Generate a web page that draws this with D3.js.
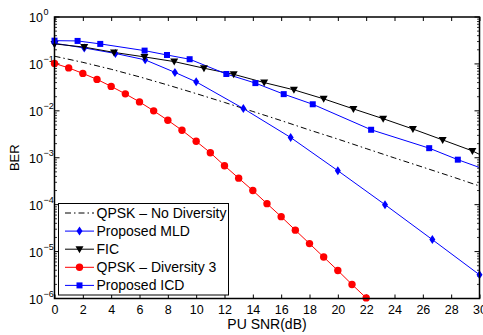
<!DOCTYPE html>
<html lang="en">
<head>
    <meta charset="UTF-8">
    <title>BER vs PU SNR</title>
    <script src="https://d3js.org/d3.v7.min.js"></script>
    <style>
        body { margin: 0; background: #fff; }
        text { font-family: "Liberation Sans", Arial, sans-serif; fill: #000; }
        .line { fill: none; stroke-width: 1px; }
    </style>
</head>
<body>
    <script>
        // values (x in dB, BER)
        var noDivX   = [0, 2, 4, 6, 8, 10, 12, 14, 16, 18, 20, 22, 24, 26, 28, 30];
        var noDivBer = [0.146, 0.108, 0.077, 0.053, 0.0355, 0.0233, 0.0151, 0.0097, 0.0062, 0.0039,
                        0.0025, 0.00157, 0.00099, 0.00063, 0.0004, 0.00025];

        var mldX   = [0, 2.1, 4.3, 6.4, 8.5, 10, 13.33, 16.67, 20, 23.33, 26.67, 30];
        var mldBer = [0.276, 0.219, 0.167, 0.122, 0.066, 0.0415, 0.0112, 0.0027, 0.00053, 0.0001, 1.8e-5, 3.2e-6];

        var ficX   = [0, 2.1, 4.2, 6.35, 8.45, 10.55, 12.65, 14.8, 16.9, 19.0, 21.1, 23.2, 25.3, 27.4, 29.5, 30];
        var ficBer = [0.267, 0.228, 0.176, 0.141, 0.112, 0.081, 0.060, 0.040, 0.028, 0.018,
                      0.011, 0.0068, 0.0041, 0.0024, 0.0014, 0.00118];

        var div3X   = d3.range(0, 23);
        var div3Ber = [0.1026, 0.0822, 0.0628, 0.0468, 0.0332, 0.0230, 0.0155, 0.0100, 0.00628, 0.00385,
                       0.00224, 0.00128, 0.000676, 0.000367, 0.0002, 0.000105, 5.56e-5, 2.86e-5,
                       1.48e-5, 7.64e-6, 3.95e-6, 1.99e-6, 1.03e-6];

        var icdX   = [0, 1.63, 3.23, 6.36, 7.94, 9.54, 12.13, 14.18, 16.18, 18.23, 22.35, 26.45, 28.47, 30];
        var icdBer = [0.313, 0.309, 0.267, 0.192, 0.155, 0.126, 0.061, 0.039, 0.0227, 0.0138,
                      0.00395, 0.0016, 0.00091, 0.00062];

        var xTicks = d3.range(0, 31, 2);
        var yTicks = [1, 1e-1, 1e-2, 1e-3, 1e-4, 1e-5, 1e-6];

        var width = 483, height = 335;
        var pL = 54.5, pR = 479.5, pT = 17, pB = 298.5;

        var x = d3.scaleLinear().domain([0, 30]).range([pL, pR]);
        var y = d3.scaleLog().domain([1e-6, 1]).range([pB, pT]);

        var svg = d3.select("body").append("svg")
            .attr("width", width)
            .attr("height", height);

        // ticks (inside), bottom and top
        svg.append("g")
            .attr("transform", "translate(0," + pB + ")")
            .call(d3.axisBottom(x).tickValues(xTicks).tickSize(-4).tickPadding(7).tickSizeOuter(0))
            .call(g => g.select(".domain").remove())
            .call(g => g.selectAll("text").attr("font-size", 12.5).attr("font-family", "Liberation Sans, Arial, sans-serif"));

        svg.append("g")
            .attr("transform", "translate(0," + pT + ")")
            .call(d3.axisTop(x).tickValues(xTicks).tickSize(-4).tickFormat("").tickSizeOuter(0))
            .call(g => g.select(".domain").remove());

        // minor log ticks
        var minor = y.ticks().filter(d => yTicks.indexOf(d) < 0);
        [[pL, 1], [pR, -1]].forEach(function (s) {
            svg.append("g").selectAll("line.minor")
                .data(minor).enter().append("line")
                .attr("x1", s[0]).attr("x2", s[0] + s[1] * 2.5)
                .attr("y1", d => y(d)).attr("y2", d => y(d))
                .attr("stroke", "#000").attr("stroke-width", 0.8);
            svg.append("g").selectAll("line.major")
                .data(yTicks).enter().append("line")
                .attr("x1", s[0]).attr("x2", s[0] + s[1] * 5)
                .attr("y1", d => y(d)).attr("y2", d => y(d))
                .attr("stroke", "#000").attr("stroke-width", 1);
        });

        // y tick labels 10^n
        svg.append("g").selectAll("text")
            .data(yTicks).enter().append("text")
            .attr("x", 43)
            .attr("y", d => y(d) + 5)
            .attr("text-anchor", "end")
            .attr("font-size", 12.5)
            .text("10");
        svg.append("g").selectAll("text")
            .data(yTicks).enter().append("text")
            .attr("x", 43.5)
            .attr("y", d => y(d) - 2)
            .attr("font-size", 9)
            .text(d => d === 1 ? "0" : "\u2212" + Math.round(-Math.log10(d)));

        // axis titles
        svg.append("text")
            .attr("x", (pL + pR) / 2)
            .attr("y", 329)
            .attr("text-anchor", "middle")
            .attr("font-size", 14)
            .text("PU SNR(dB)");

        svg.append("text")
            .attr("transform", "translate(19," + ((pT + pB) / 2) + ") rotate(-90)")
            .attr("text-anchor", "middle")
            .attr("font-size", 13)
            .text("BER");

        function series(xs, ys) {
            return xs.map((d, i) => ({x: d, y: ys[i]}));
        }

        var line = d3.line().x(d => x(d.x)).y(d => y(d.y));

        var noDiv = series(noDivX, noDivBer),
            mld = series(mldX, mldBer),
            fic = series(ficX, ficBer),
            div3 = series(div3X, div3Ber),
            icd = series(icdX, icdBer);

        svg.append("path").datum(noDiv).attr("class", "line")
            .attr("stroke", "#000").attr("stroke-dasharray", "6,3,1.5,3").attr("d", line);

        svg.append("path").datum(mld).attr("class", "line").attr("stroke", "#0000ff").attr("d", line);
        svg.append("path").datum(fic).attr("class", "line").attr("stroke", "#000").attr("d", line);
        svg.append("path").datum(div3).attr("class", "line").attr("stroke", "#ff0000").attr("d", line);
        svg.append("path").datum(icd).attr("class", "line").attr("stroke", "#0000ff").attr("d", line);

        var diamond = "M0,-4.5L3,0L0,4.5L-3,0Z";
        var tri = "M-4,-3L4,-3L0,4Z";

        function markers(data, draw) {
            var g = svg.append("g").selectAll("g")
                .data(data).enter().append("g")
                .attr("transform", d => "translate(" + x(d.x) + "," + y(d.y) + ")");
            draw(g);
        }

        markers(mld, g => g.append("path").attr("d", diamond).attr("fill", "#0000ff"));
        // last FIC point is the line end at 30 dB, no marker there
        markers(fic.slice(0, -1), g => g.append("path").attr("d", tri).attr("fill", "#000"));
        markers(div3, g => g.append("circle").attr("r", 3.7).attr("fill", "#ff0000"));
        markers(icd.slice(0, -1), g => g.append("rect").attr("x", -3).attr("y", -3)
            .attr("width", 6).attr("height", 6).attr("fill", "#0000ff"));

        // legend
        var legendItems = [
            {name: "QPSK \u2013 No Diversity", color: "#000", dash: "6,3,1.5,3", mark: null},
            {name: "Proposed MLD", color: "#0000ff", dash: null, mark: "diamond"},
            {name: "FIC", color: "#000", dash: null, mark: "tri"},
            {name: "QPSK \u2013 Diversity 3", color: "#ff0000", dash: null, mark: "circle"},
            {name: "Proposed ICD", color: "#0000ff", dash: null, mark: "square"}
        ];

        var lg = svg.append("g");
        lg.append("rect")
            .attr("x", 58.5).attr("y", 203.5)
            .attr("width", 170).attr("height", 91.5)
            .attr("fill", "#fff").attr("stroke", "#000").attr("stroke-width", 1);

        var row = lg.selectAll("g.row")
            .data(legendItems).enter().append("g")
            .attr("transform", (d, i) => "translate(0," + (213 + i * 18.1) + ")");

        row.append("line")
            .attr("x1", 65).attr("x2", 94)
            .attr("stroke", d => d.color)
            .attr("stroke-dasharray", d => d.dash)
            .attr("stroke-width", 1);

        row.each(function (d) {
            var r = d3.select(this);
            if (d.mark === "diamond") r.append("path").attr("d", diamond).attr("transform", "translate(79.5,0)").attr("fill", d.color);
            if (d.mark === "tri") r.append("path").attr("d", tri).attr("transform", "translate(79.5,0)").attr("fill", d.color);
            if (d.mark === "circle") r.append("circle").attr("cx", 79.5).attr("r", 3.7).attr("fill", d.color);
            if (d.mark === "square") r.append("rect").attr("x", 76.5).attr("y", -3).attr("width", 6).attr("height", 6).attr("fill", d.color);
        });

        row.append("text")
            .attr("x", 96.5)
            .attr("y", 5)
            .attr("font-size", 14)
            .text(d => d.name);

        // box
        svg.append("rect")
            .attr("x", pL).attr("y", pT)
            .attr("width", pR - pL).attr("height", pB - pT)
            .attr("fill", "none").attr("stroke", "#000").attr("stroke-width", 1.5);
    </script>
</body>
</html>
